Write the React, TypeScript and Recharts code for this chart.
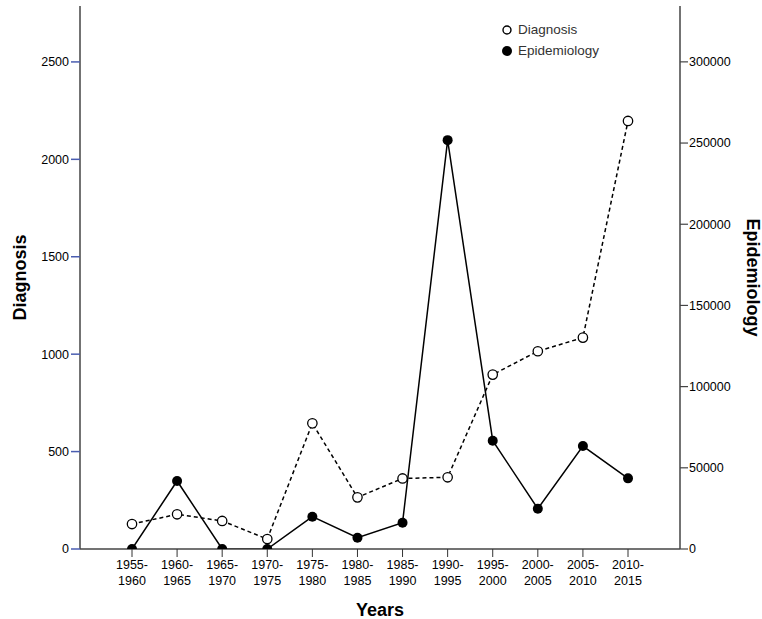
import React from 'react';
import { LineChart, Line, XAxis, YAxis, Legend } from 'recharts';

const categories = [
  '1955-1960', '1960-1965', '1965-1970', '1970-1975', '1975-1980', '1980-1985',
  '1985-1990', '1990-1995', '1995-2000', '2000-2005', '2005-2010', '2010-2015',
];
const diagnosis = [128, 178, 144, 51, 645, 265, 362, 368, 895, 1015, 1085, 2197];
const epidemiology = [0, 41900, 0, 0, 19900, 6900, 16200, 251800, 66700, 24800, 63400, 43500];
const leftTicks = [0, 500, 1000, 1500, 2000, 2500];
const rightTicks = [0, 50000, 100000, 150000, 200000, 250000, 300000];

const data = categories.map((c, i) => ({
  period: c,
  Diagnosis: diagnosis[i],
  Epidemiology: epidemiology[i],
}));

const FONT = '"Liberation Sans", Arial, sans-serif';

const XTick = (props: any) => {
  const { x, y, payload } = props;
  const parts = String(payload.value).split('-');
  return (
    <text x={x} y={y} textAnchor="middle" fontSize={12.5} fill="#000" fontFamily={FONT}>
      <tspan x={x} dy={10}>{parts[0] + '-'}</tspan>
      <tspan x={x} dy={15.5}>{parts[1]}</tspan>
    </text>
  );
};

const LeftTitle = (props: any) => {
  const vb = props.viewBox;
  const cx = vb.x + 20;
  const cy = vb.y + vb.height / 2;
  return (
    <text x={cx} y={cy} transform={`rotate(-90, ${cx}, ${cy})`} textAnchor="middle"
      dominantBaseline="central" fontSize={18} fontWeight="bold" fill="#000" fontFamily={FONT}>
      Diagnosis
    </text>
  );
};

const RightTitle = (props: any) => {
  const vb = props.viewBox;
  const cx = vb.x + 73;
  const cy = vb.y + vb.height / 2;
  return (
    <text x={cx} y={cy} transform={`rotate(90, ${cx}, ${cy})`} textAnchor="middle"
      dominantBaseline="central" fontSize={18} fontWeight="bold" fill="#000" fontFamily={FONT}>
      Epidemiology
    </text>
  );
};

const BottomTitle = (props: any) => {
  const vb = props.viewBox;
  const cx = vb.x + vb.width / 2;
  const cy = vb.y + 67;
  return (
    <text x={cx} y={cy} textAnchor="middle" fontSize={18} fontWeight="bold" fill="#000" fontFamily={FONT}>
      Years
    </text>
  );
};

const LegendBox = () => (
  <div style={{ fontFamily: FONT, fontSize: 13.5, color: '#333', lineHeight: '21px' }}>
    <div style={{ display: 'flex', alignItems: 'center' }}>
      <svg width={14} height={14} style={{ marginRight: 4 }}>
        <circle cx={7} cy={7} r={4} fill="#fff" stroke="#000" strokeWidth={1.4} />
      </svg>
      <span>Diagnosis</span>
    </div>
    <div style={{ display: 'flex', alignItems: 'center' }}>
      <svg width={14} height={14} style={{ marginRight: 4 }}>
        <circle cx={7} cy={7} r={5} fill="#000" />
      </svg>
      <span>Epidemiology</span>
    </div>
  </div>
);

const OpenDot = (props: any) => {
  const { cx, cy } = props;
  return <circle cx={cx} cy={cy} r={4.7} fill="#fff" stroke="#000" strokeWidth={1.3} />;
};

export default function App() {
  return (
    <div style={{ position: 'absolute', left: 0, top: 0 }}>
      <LineChart width={762} height={619} data={data}
        margin={{ top: 6, right: 0, bottom: 0, left: 0 }}>
        <XAxis dataKey="period" xAxisId="main" height={70} padding={{ left: 52, right: 52 }}
          tick={<XTick />} tickSize={8} tickLine={{ stroke: '#333' }} interval={0}
          axisLine={{ stroke: '#444', strokeWidth: 1.5 }} label={<BottomTitle />} />
        <XAxis dataKey="period" xAxisId="top" orientation="top" height={0} tick={false}
          tickLine={false} axisLine={{ stroke: '#444', strokeWidth: 1.5 }} />
        <YAxis yAxisId="left" orientation="left" width={80} domain={[0, 2787]} ticks={leftTicks}
          allowDataOverflow tickSize={9} tick={{ fontSize: 12.5, fill: '#000', fontFamily: FONT }}
          tickLine={{ stroke: '#4a5db0', strokeWidth: 1.5 }}
          axisLine={{ stroke: '#444', strokeWidth: 1.5 }} label={<LeftTitle />} />
        <YAxis yAxisId="right" orientation="right" width={82} domain={[0, 334400]} ticks={rightTicks}
          allowDataOverflow tickSize={8} tickMargin={1}
          tick={{ fontSize: 12.5, fill: '#000', fontFamily: FONT, textAnchor: 'start' }}
          tickLine={{ stroke: '#444', strokeWidth: 1.2 }}
          axisLine={{ stroke: '#444', strokeWidth: 1.5 }} label={<RightTitle />} />
        <Legend layout="horizontal" verticalAlign="middle" align="center" content={<LegendBox />}
          wrapperStyle={{ position: 'absolute', left: 500, top: 19, width: 160, height: 44 }} />
        <Line xAxisId="main" yAxisId="left" dataKey="Diagnosis" stroke="#000" strokeWidth={1.5}
          strokeDasharray="4 3" dot={<OpenDot />} activeDot={false} isAnimationActive={false} />
        <Line xAxisId="main" yAxisId="right" dataKey="Epidemiology" stroke="#000" strokeWidth={1.5}
          dot={{ r: 5, fill: '#000', stroke: '#000', strokeWidth: 0 }} activeDot={false}
          isAnimationActive={false} />
      </LineChart>
    </div>
  );
}
